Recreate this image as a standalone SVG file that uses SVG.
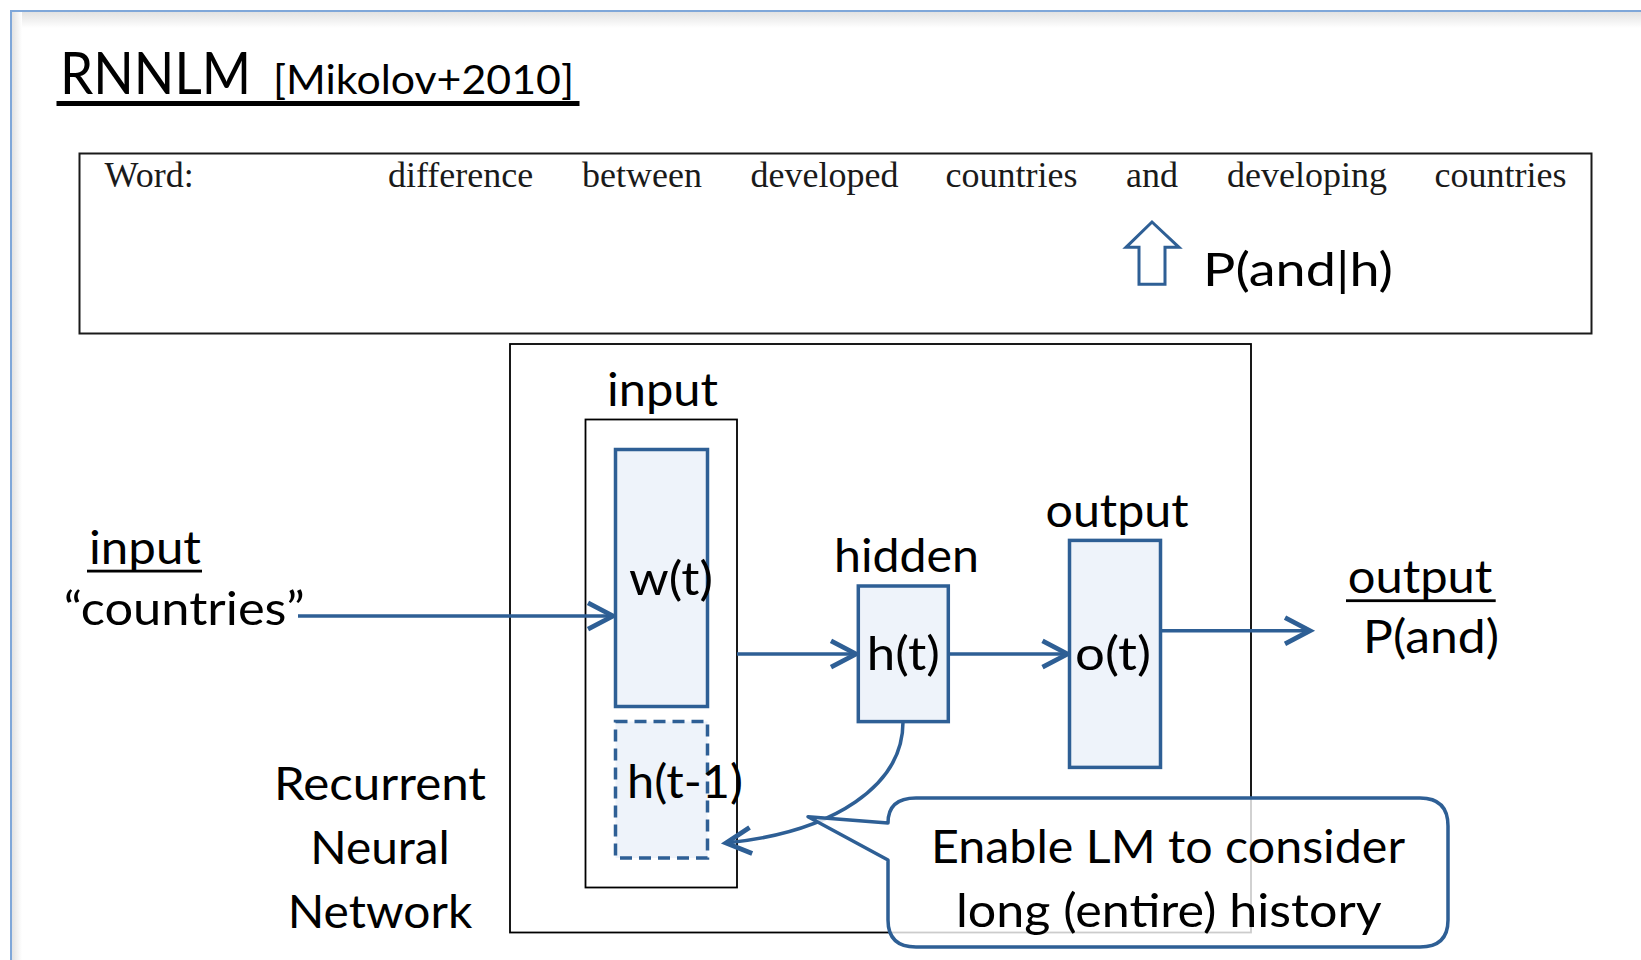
<svg xmlns="http://www.w3.org/2000/svg" width="1641" height="960" viewBox="0 0 1641 960">
<style>
.lbl{font-family:Lato,"Noto Sans",sans-serif;font-size:46px;fill:#000}
.serif{font-family:"Liberation Serif","Times New Roman",serif;font-size:36px;fill:#1a1a1a}
.node{fill:#eef3fa;stroke:#2e5f95;stroke-width:3.5}
.conn{fill:none;stroke:#2e5f95;stroke-width:3.5}
.thin{fill:none;stroke:#000;stroke-width:1.8}
</style>
<defs>
<marker id="ah" markerUnits="userSpaceOnUse" markerWidth="40" markerHeight="40" viewBox="-26 -16 32 32" refX="0" refY="0" orient="auto" overflow="visible">
<path d="M-20,-10.5 L0,0 L-20,10.5" fill="none" stroke="#2e5f95" stroke-width="3.8"/>
</marker>
<linearGradient id="shT" x1="0" y1="0" x2="0" y2="1">
<stop offset="0" stop-color="#e2e2e2"/><stop offset="1" stop-color="#ffffff"/>
</linearGradient>
<linearGradient id="shL" x1="0" y1="0" x2="1" y2="0">
<stop offset="0" stop-color="#e2e2e2"/><stop offset="1" stop-color="#ffffff"/>
</linearGradient>
</defs>
<rect width="1641" height="960" fill="#fff"/>
<g id="frame">
<rect x="12" y="12" width="1629" height="16" fill="url(#shT)"/>
<rect x="12" y="12" width="10" height="948" fill="url(#shL)"/>
<path d="M11,960 V11 H1641" fill="none" stroke="#7fa7d9" stroke-width="2"/>
</g>
<g id="title">
<text x="60" y="94.3" font-family="Lato,'Noto Sans',sans-serif" font-size="58" fill="#000" textLength="191" lengthAdjust="spacingAndGlyphs">RNNLM</text>
<text x="273" y="94.3" font-family="Lato,'Noto Sans',sans-serif" font-size="41" fill="#000" textLength="301" lengthAdjust="spacingAndGlyphs">[Mikolov+2010]</text>
<rect x="56.5" y="101" width="523" height="5" fill="#000"/>
</g>
<g id="sentence">
<rect x="79.5" y="153.5" width="1512" height="180" fill="none" stroke="#1a1a1a" stroke-width="2"/>
<text class="serif" x="104.6" y="186.7">Word:</text>
<text class="serif" x="388" y="186.7">difference</text>
<text class="serif" x="582" y="186.7">between</text>
<text class="serif" x="750.5" y="186.7">developed</text>
<text class="serif" x="945.5" y="186.7">countries</text>
<text class="serif" x="1126" y="186.7">and</text>
<text class="serif" x="1227" y="186.7">developing</text>
<text class="serif" x="1434.5" y="186.7">countries</text>
<path d="M1152,222 L1179,247.3 L1165,247.3 L1165,284.3 L1139,284.3 L1139,247.3 L1126,247.3 Z" fill="#fff" stroke="#2e5f95" stroke-width="3"/>
<text class="lbl" x="1203" y="286" textLength="190" lengthAdjust="spacingAndGlyphs">P(and|h)</text>
</g>
<g id="network-frame">
<rect x="510" y="344" width="741" height="588.5" class="thin"/>
<rect x="585.5" y="419.5" width="151.5" height="468" class="thin"/>
<text class="lbl" x="662.5" y="406" text-anchor="middle" textLength="111" lengthAdjust="spacingAndGlyphs">input</text>
</g>
<g id="connectors">
<line x1="298" y1="616" x2="613" y2="616" class="conn" marker-end="url(#ah)"/>
<line x1="737" y1="654" x2="856" y2="654" class="conn" marker-end="url(#ah)"/>
<line x1="949" y1="654" x2="1067.5" y2="654" class="conn" marker-end="url(#ah)"/>
<line x1="1161" y1="630.7" x2="1310" y2="630.7" class="conn" marker-end="url(#ah)"/>
<path d="M903,722 C903,785 835,832 726,843" class="conn" marker-end="url(#ah)"/>
</g>
<g id="node-wt">
<rect x="615.5" y="449.5" width="92" height="257" class="node"/>
<text class="lbl" x="671" y="595" text-anchor="middle" textLength="84" lengthAdjust="spacingAndGlyphs">w(t)</text>
</g>
<g id="node-ht1">
<rect x="615.5" y="721.5" width="92" height="136.5" class="node" stroke-dasharray="12,7"/>
<text class="lbl" x="685" y="798" text-anchor="middle" textLength="116" lengthAdjust="spacingAndGlyphs">h(t-1)</text>
</g>
<g id="node-ht">
<rect x="858.3" y="586" width="90" height="135.6" class="node"/>
<text class="lbl" x="906.5" y="572" text-anchor="middle" textLength="145" lengthAdjust="spacingAndGlyphs">hidden</text>
<text class="lbl" x="903.3" y="670" text-anchor="middle" textLength="73" lengthAdjust="spacingAndGlyphs">h(t)</text>
</g>
<g id="node-ot">
<rect x="1069.5" y="540.4" width="91" height="227" class="node"/>
<text class="lbl" x="1117" y="527" text-anchor="middle" textLength="143" lengthAdjust="spacingAndGlyphs">output</text>
<text class="lbl" x="1113" y="670" text-anchor="middle" textLength="76" lengthAdjust="spacingAndGlyphs">o(t)</text>
</g>
<g id="input-label">
<text class="lbl" x="89" y="564" textLength="112" lengthAdjust="spacingAndGlyphs">input</text>
<rect x="87" y="569.7" width="115" height="2.8" fill="#000"/>
<text class="lbl" x="63.7" y="625" textLength="241" lengthAdjust="spacingAndGlyphs">“countries”</text>
</g>
<g id="output-label">
<text class="lbl" x="1347.7" y="593.3" textLength="144.6" lengthAdjust="spacingAndGlyphs">output</text>
<rect x="1346" y="599.3" width="149.7" height="2.8" fill="#000"/>
<text class="lbl" x="1363" y="653" textLength="136" lengthAdjust="spacingAndGlyphs">P(and)</text>
</g>
<g id="rnn-label">
<text class="lbl" x="380" y="800" text-anchor="middle" textLength="212" lengthAdjust="spacingAndGlyphs">Recurrent</text>
<text class="lbl" x="380" y="864" text-anchor="middle" textLength="139.5" lengthAdjust="spacingAndGlyphs">Neural</text>
<text class="lbl" x="380" y="927.7" text-anchor="middle" textLength="184.5" lengthAdjust="spacingAndGlyphs">Network</text>
</g>
<g id="callout">
<path d="M888,823 L808,816.7 L888,860 L888,920 Q888,947 916,947 L1420,947 Q1448,947 1448,920 L1448,826 Q1448,798 1420,798 L916,798 Q888,798 888,823 Z" fill="#fff" fill-opacity="0.8" stroke="#2e5f95" stroke-width="3.5" stroke-linejoin="round"/>
<text class="lbl" x="1168" y="862.5" text-anchor="middle" textLength="474" lengthAdjust="spacingAndGlyphs">Enable LM to consider</text>
<text class="lbl" x="1168.8" y="926.7" text-anchor="middle" textLength="425.7" lengthAdjust="spacingAndGlyphs">long (entire) history</text>
</g>
</svg>
